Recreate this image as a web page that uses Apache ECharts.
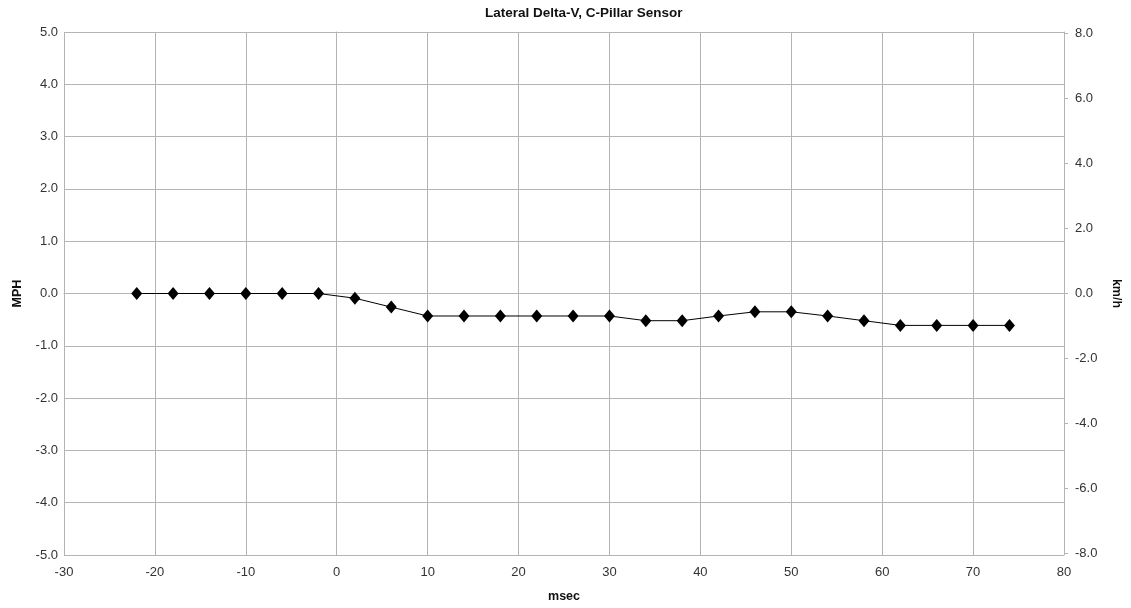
<!DOCTYPE html>
<html>
<head>
<meta charset="utf-8">
<script src="https://cdn.jsdelivr.net/npm/echarts@6/dist/echarts.min.js"></script>
<style>
  html, body { margin: 0; padding: 0; background: #fff; }
  #chart { width: 1131px; height: 608px; }
</style>
</head>
<body>
<div id="chart"></div>
<script>
// Lateral delta-V sampled every 4 ms, in MPH
const timeMs = [-22, -18, -14, -10, -6, -2, 2, 6, 10, 14, 18, 22, 26, 30, 34, 38, 42, 46, 50, 54, 58, 62, 66, 70, 74];
const deltaVMph = [0, 0, 0, 0, 0, 0, -0.09, -0.26, -0.43, -0.43, -0.43, -0.43, -0.43, -0.43, -0.52, -0.52, -0.43, -0.35, -0.35, -0.43, -0.52, -0.61, -0.61, -0.61, -0.61];
const kmhTicks = [-8, -6, -4, -2, 0, 2, 4, 6, 8];

const MPH_TO_KMH = 1.609344;
const MPH_MIN = -5, MPH_MAX = 5;

const FONT = 'Liberation Sans, Arial, sans-serif';
const GRID = '#b4b4b4';
const LABEL = '#333';

const chart = echarts.init(document.getElementById('chart'), null, { renderer: 'canvas' });

chart.setOption({
  animation: false,
  backgroundColor: '#fff',
  title: {
    text: 'Lateral Delta-V, C-Pillar Sensor',
    left: 480,
    top: 1,
    textStyle: { fontFamily: FONT, fontSize: 13.5, fontWeight: 'bold', color: '#111' }
  },
  grid: { left: 64, right: 65, top: 32, bottom: 50, containLabel: false },
  xAxis: {
    type: 'value',
    min: -30, max: 80, interval: 10,
    name: 'msec',
    nameLocation: 'middle',
    nameGap: 35,
    nameTextStyle: { fontFamily: FONT, fontSize: 12.5, fontWeight: 'bold', color: '#111' },
    axisLine: { show: true, lineStyle: { color: GRID, width: 1 } },
    axisTick: { show: true, length: 4, lineStyle: { color: GRID } },
    axisLabel: { fontFamily: FONT, fontSize: 13, color: LABEL, margin: 11 },
    splitLine: { show: true, lineStyle: { color: GRID, width: 1 } }
  },
  yAxis: [
    {
      type: 'value',
      position: 'left',
      min: MPH_MIN, max: MPH_MAX, interval: 1,
      name: 'MPH',
      nameLocation: 'middle',
      nameRotate: 90,
      nameGap: 40,
      nameTextStyle: { fontFamily: FONT, fontSize: 12.5, fontWeight: 'bold', color: '#111' },
      axisLine: { show: true, lineStyle: { color: GRID, width: 1 } },
      axisTick: { show: true, length: 4, lineStyle: { color: GRID } },
      axisLabel: {
        fontFamily: FONT, fontSize: 13, color: LABEL, margin: 6,
        formatter: v => v.toFixed(1)
      },
      splitLine: { show: true, lineStyle: { color: GRID, width: 1 } }
    },
    {
      type: 'value',
      position: 'right',
      min: MPH_MIN * MPH_TO_KMH, max: MPH_MAX * MPH_TO_KMH,
      name: 'km/h',
      nameLocation: 'middle',
      nameRotate: -90,
      nameGap: 46,
      nameTextStyle: { fontFamily: FONT, fontSize: 12.5, fontWeight: 'bold', color: '#111' },
      axisLine: { show: true, lineStyle: { color: GRID, width: 1 } },
      axisTick: { show: true, length: 4, customValues: kmhTicks, lineStyle: { color: GRID } },
      axisLabel: {
        fontFamily: FONT, fontSize: 13, color: LABEL, margin: 11,
        customValues: kmhTicks,
        formatter: v => v.toFixed(1)
      },
      splitLine: { show: false }
    }
  ],
  series: [
    {
      type: 'line',
      xAxisIndex: 0,
      yAxisIndex: 0,
      data: timeMs.map((t, i) => [t, deltaVMph[i]]),
      symbol: 'diamond',
      symbolSize: [11, 13],
      showAllSymbol: true,
      itemStyle: { color: '#000' },
      lineStyle: { color: '#000', width: 1 }
    }
  ]
});
</script>
</body>
</html>
